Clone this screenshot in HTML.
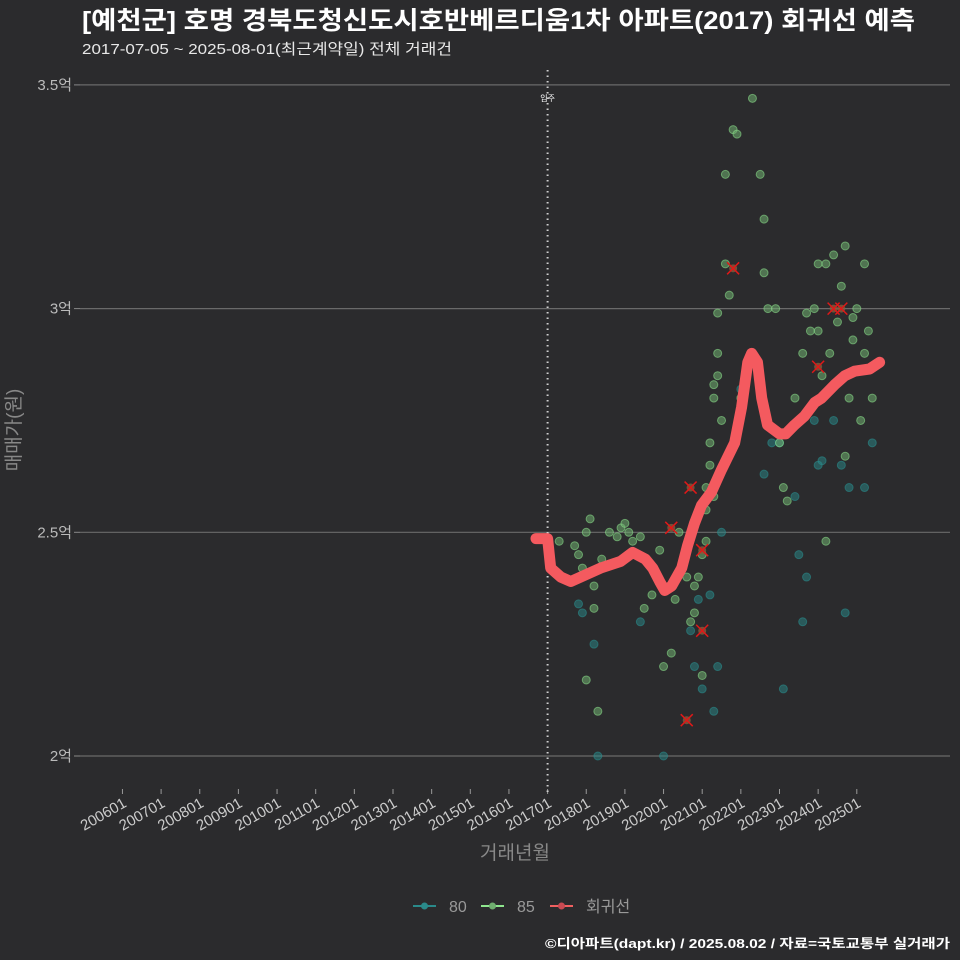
<!DOCTYPE html>
<html><head><meta charset="utf-8"><style>
html,body{margin:0;padding:0;background:#2b2b2d;}
svg{display:block;font-family:"Liberation Sans","Noto Sans CJK KR",sans-serif;}
</style></head><body>
<svg id="chart" width="960" height="960" xmlns="http://www.w3.org/2000/svg">
<rect width="960" height="960" fill="#2b2b2d"/>
<text x="82" y="29" font-size="25" font-weight="bold" fill="#ffffff" textLength="833" lengthAdjust="spacingAndGlyphs">[예천군] 호명 경북도청신도시호반베르디움1차 아파트(2017) 회귀선 예측</text>
<text x="82" y="54" font-size="15" fill="#e8e8e8" textLength="370" lengthAdjust="spacingAndGlyphs">2017-07-05 ~ 2025-08-01(최근계약일) 전체 거래건</text>
<g id="grid"></g>
<g id="xaxis"></g>
<g id="yaxis"></g>
<g id="marks"></g>
<text x="0" y="0" transform="translate(20,430) rotate(-90)" text-anchor="middle" font-size="19" fill="#888">매매가(원)</text>
<text x="515" y="859" text-anchor="middle" font-size="19" fill="#888">거래년월</text>
<g>
 <g><line x1="413" y1="906" x2="436" y2="906" stroke="#2a8a8a" stroke-width="2"/><circle cx="424.5" cy="906" r="3.5" fill="#2a8a8a"/><text x="449" y="912" font-size="16" fill="#999">80</text></g>
 <g><line x1="481" y1="906" x2="504" y2="906" stroke="#8ee68e" stroke-width="2"/><circle cx="492.5" cy="906" r="3.5" fill="#6fae6f"/><text x="517" y="912" font-size="16" fill="#999">85</text></g>
 <g><line x1="550" y1="906" x2="573" y2="906" stroke="#f06060" stroke-width="2"/><circle cx="561.5" cy="906" r="3.5" fill="#c84a52"/><text x="586" y="912" font-size="16" fill="#999">회귀선</text></g>
</g>
<text x="950" y="948" text-anchor="end" font-size="13" font-weight="bold" fill="#ffffff" textLength="405" lengthAdjust="spacingAndGlyphs">©디아파트(dapt.kr) / 2025.08.02 / 자료=국토교통부 실거래가</text>
</svg>
<script>
const yTicks=[2,2.5,3,3.5];
const yTickLabels=["2억","2.5억","3억","3.5억"];
const xYears=[2006,2007,2008,2009,2010,2011,2012,2013,2014,2015,2016,2017,2018,2019,2020,2021,2022,2023,2024,2025];
const xTickLabels=["200601","200701","200801","200901","201001","201101","201201","201301","201401","201501","201601","201701","201801","201901","202001","202101","202201","202301","202401","202501"];
const moveIn=2017.0;
const s80T=[2018.2,2018.3,2017.9,2019.4,2020.0,2020.7,2020.8,2021.0,2021.2,2021.3,2021.4,2021.5,2022.0,2022.6,2022.8,2023.0,2023.1,2023.4,2023.5,2023.6,2023.7,2024.0,2024.1,2024.4,2024.6,2024.7,2024.8,2025.2,2025.4,2023.9,2017.8,2020.9];
const s80V=[2.25,2.00,2.32,2.30,2.00,2.28,2.20,2.15,2.36,2.10,2.20,2.50,2.82,2.63,2.70,2.70,2.15,2.58,2.45,2.30,2.40,2.65,2.66,2.75,2.65,2.32,2.60,2.60,2.70,2.75,2.34,2.35];
const s85T=[2017.3,2017.7,2017.8,2017.9,2018.0,2018.1,2018.2,2018.2,2018.3,2018.0,2018.4,2018.6,2018.8,2018.9,2019.0,2019.1,2019.2,2019.4,2019.5,2019.7,2019.9,2020.0,2020.2,2020.3,2020.4,2020.6,2020.7,2020.8,2020.8,2020.9,2021.0,2021.0,2021.1,2021.1,2021.2,2021.2,2021.3,2021.3,2021.4,2021.4,2021.5,2021.6,2021.6,2021.7,2021.8,2021.9,2022.0,2022.3,2022.5,2022.6,2022.6,2022.7,2022.9,2023.0,2023.1,2023.2,2023.4,2023.6,2023.7,2023.8,2023.9,2024.0,2024.0,2024.1,2024.2,2024.3,2024.4,2024.5,2024.6,2024.7,2024.8,2024.9,2025.0,2025.1,2025.2,2025.3,2025.4,2024.2,2024.7,2024.9,2025.2,2021.1,2021.3,2021.4];
const s85V=[2.48,2.47,2.45,2.42,2.50,2.53,2.38,2.33,2.10,2.17,2.44,2.50,2.49,2.51,2.52,2.50,2.48,2.49,2.33,2.36,2.46,2.20,2.23,2.35,2.50,2.40,2.30,2.38,2.32,2.40,2.18,2.45,2.55,2.48,2.65,2.70,2.58,2.80,2.90,2.99,2.75,3.30,3.10,3.03,3.40,3.39,2.80,3.47,3.30,3.20,3.08,3.00,3.00,2.70,2.60,2.57,2.80,2.90,2.99,2.95,3.00,3.10,2.95,2.85,3.10,2.90,3.12,2.97,3.05,3.14,2.80,2.98,3.00,2.75,3.10,2.95,2.80,2.48,2.67,2.93,2.90,2.60,2.83,2.85];
const outT=[2020.2,2020.7,2021.0,2020.6,2021.0,2021.8,2024.0,2024.4,2024.6];
const outV=[2.51,2.60,2.46,2.08,2.28,3.09,2.87,3.00,3.00];
const regT=[2016.7,2017.0,2017.08,2017.34,2017.6,2018.37,2018.89,2019.2,2019.53,2019.72,2019.9,2020.03,2020.21,2020.47,2020.62,2020.8,2020.98,2021.24,2021.5,2021.84,2022.02,2022.18,2022.28,2022.43,2022.54,2022.69,2023.0,2023.16,2023.39,2023.65,2023.91,2024.09,2024.43,2024.69,2024.94,2025.33,2025.59];
const regV=[2.486,2.486,2.42,2.40,2.39,2.42,2.435,2.455,2.44,2.42,2.39,2.37,2.38,2.42,2.47,2.52,2.56,2.59,2.64,2.70,2.78,2.88,2.90,2.88,2.80,2.74,2.72,2.72,2.74,2.76,2.79,2.80,2.83,2.85,2.86,2.865,2.88];

const NS="http://www.w3.org/2000/svg";
const X=t=>547.6+(t-2017)*38.65;
const Y=v=>756-(v-2)*447.4;
function mk(tag,attrs,parent){const e=document.createElementNS(NS,tag);for(const k in attrs)e.setAttribute(k,attrs[k]);parent.appendChild(e);return e;}
const grid=document.getElementById('grid'),xa=document.getElementById('xaxis'),ya=document.getElementById('yaxis'),marks=document.getElementById('marks');
yTicks.forEach((v,i)=>{
 const l=mk('line',{x1:80,x2:950,y1:Y(v),y2:Y(v),stroke:'#6a6a6a','stroke-width':1.2},grid);
 
 
 const tk=mk('line',{x1:74,x2:80,y1:Y(v),y2:Y(v),stroke:'#888'},ya);
 
 
 const t=mk('text',{x:72,y:Y(v)+5,'text-anchor':'end','font-size':15,fill:'#bbb'},ya);
 t.textContent=yTickLabels[i];
 
 
});
xYears.forEach((yr,i)=>{
 const x=X(yr);
 const tk=mk('line',{x1:x,x2:x,y1:789,y2:794,stroke:'#999'},xa);
 
 
 const t=mk('text',{x:0,y:0,'text-anchor':'end','font-size':15,fill:'#ccc',transform:`translate(${x+5},${806}) rotate(-30)`},xa);
 t.textContent=xTickLabels[i];
 
 
});
const ml=mk('line',{x1:X(moveIn),x2:X(moveIn),y1:70,y2:792,stroke:'#cfcfcf','stroke-width':2,'stroke-dasharray':'1.5,4'},marks);


const mt=mk('text',{x:X(moveIn),y:101,'text-anchor':'middle','font-size':8,fill:'#fff'},marks);
mt.textContent='입주';


s80T.forEach((t,i)=>{
 const c=mk('circle',{cx:X(t),cy:Y(s80V[i]),r:4,fill:'#2a8a8a','fill-opacity':0.5,stroke:'#2a8a8a','stroke-opacity':0.6},marks);
 
 
});
s85T.forEach((t,i)=>{
 const c=mk('circle',{cx:X(t),cy:Y(s85V[i]),r:4,fill:'#6fae6f','fill-opacity':0.55,stroke:'#8ee68e','stroke-opacity':0.55},marks);
 
 
});
const pts=regT.map((t,i)=>X(t)+','+Y(regV[i])).join(' ');
const rl=mk('polyline',{points:pts,fill:'none',stroke:'#f45a5f','stroke-width':11,'stroke-linejoin':'round','stroke-linecap':'round'},marks);


outT.forEach((t,i)=>{
 const x=X(t),y=Y(outV[i]);
 const g=mk('g',{},marks);
 
 
 mk('circle',{cx:x,cy:y,r:4,fill:'#8a5a3a','fill-opacity':0.8},g);
 mk('path',{d:`M${x-6},${y-6}L${x+6},${y+6}M${x-6},${y+6}L${x+6},${y-6}`,stroke:'#e01818','stroke-width':1.5},g);
});
</script>
</body></html>
